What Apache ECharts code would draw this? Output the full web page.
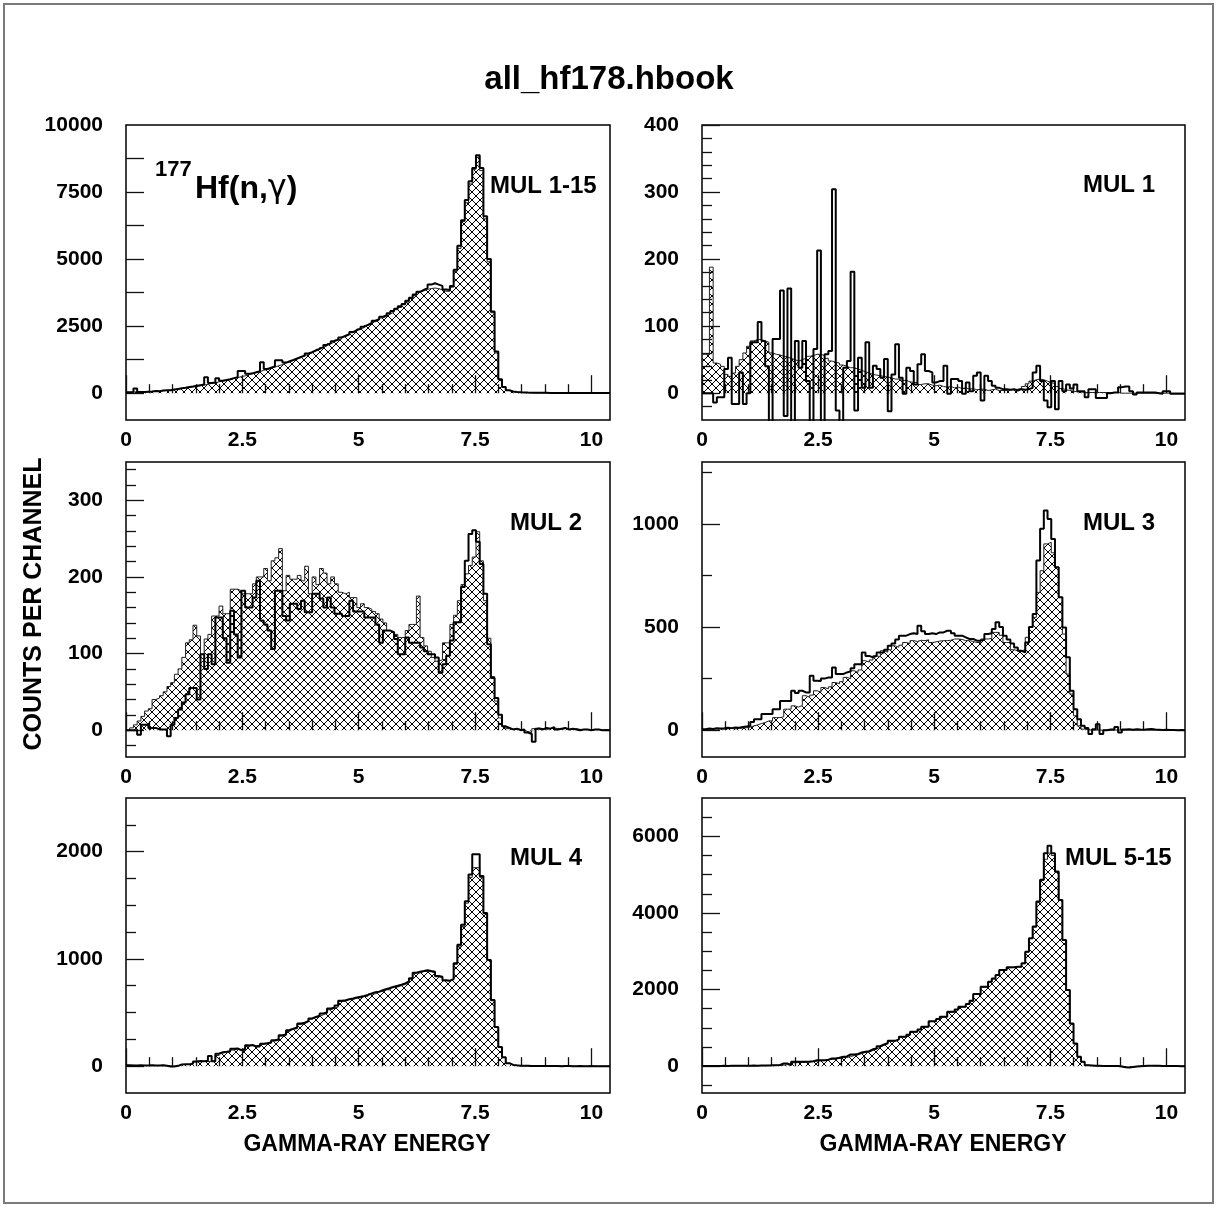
<!DOCTYPE html>
<html><head><meta charset="utf-8">
<script src="https://cdn.jsdelivr.net/npm/echarts@6/dist/echarts.min.js"></script>
<style>html,body{margin:0;padding:0;background:#fff}#c{width:1219px;height:1209px}</style>
</head><body><div id="c"></div>
<script>
// ---- binning (130 channels of 0.08 over 0..10.4) ----
const BIN_WIDTH = 0.08;
const N_BINS = 130;

// ---- tick labels ----
const xTickLabels = [0, 2.5, 5, 7.5, 10];
const xMinorTicks = [0.5, 1, 1.5, 2, 3, 3.5, 4, 4.5, 5.5, 6, 6.5, 7, 8, 8.5, 9, 9.5];
const yLabels_mul1to15 = [0, 2500, 5000, 7500, 10000];
const yMajor_mul1to15 = [0, 1250, 2500, 3750, 5000, 6250, 7500, 8750];
const yLabels_mul1 = [0, 100, 200, 300, 400];
const yMinor_mul1 = [-20, 20, 40, 60, 80, 120, 140, 160, 180, 220, 240, 260, 280, 320, 340, 360, 380];
const yLabels_mul2 = [0, 100, 200, 300];
const yMinor_mul2 = [-20, 20, 40, 60, 80, 120, 140, 160, 180, 220, 240, 260, 280, 320, 340];
const yLabels_mul3 = [0, 500, 1000];
const yMinor_mul3 = [250, 750, 1250];
const yLabels_mul4 = [0, 1000, 2000];
const yMinor_mul4 = [250, 500, 750, 1250, 1500, 1750, 2250];
const yLabels_mul5to15 = [0, 2000, 4000, 6000];
const yMinor_mul5to15 = [-500, 500, 1000, 1500, 2500, 3000, 3500, 4500, 5000, 5500, 6500];

// ---- counts per channel (hatched histogram / outline histogram) ----
const mul1to15Hatched = [
  30, 40, 50, 45, 40, 50, 60, 70, 80, 90,
  100, 115, 130, 150, 170, 190, 210, 240, 260, 280,
  305, 325, 365, 385, 425, 445, 485, 505, 550, 575,
  620, 645, 695, 725, 775, 805, 855, 885, 935, 970,
  1025, 1065, 1125, 1165, 1225, 1265, 1335, 1385, 1455, 1505,
  1575, 1625, 1705, 1765, 1845, 1905, 1985, 2035, 2115, 2175,
  2255, 2315, 2395, 2445, 2525, 2585, 2665, 2725, 2805, 2865,
  2955, 3025, 3115, 3195, 3295, 3395, 3525, 3635, 3765, 3815,
  3870, 3900, 3920, 3900, 3850, 3800, 3800, 3950, 4550, 5400,
  6400, 7100, 7800, 8350, 8800, 8300, 6500, 4900, 3000, 1500,
  500, 220, 100, 60, 40, 30, 25, 20, 20, 15,
  15, 12, 10, 10, 10, 8, 8, 8, 6, 6,
  6, 5, 5, 5, 4, 4, 4, 3, 3, 3
];
const mul1to15Outline = [
  35, 40, 170, 40, 45, 55, 60, 80, 75, 100,
  110, 110, 140, 160, 180, 200, 230, 250, 280, 300,
  320, 590, 380, 400, 560, 460, 490, 520, 560, 600,
  830, 830, 720, 740, 780, 820, 1150, 900, 950, 1000,
  1230, 1230, 1140, 1190, 1240, 1300, 1350, 1400, 1480, 1530,
  1600, 1650, 1720, 1800, 1860, 1940, 2000, 2080, 2140, 2200,
  2280, 2350, 2400, 2480, 2550, 2620, 2700, 2760, 2850, 2900,
  2980, 3060, 3150, 3240, 3330, 3450, 3560, 3680, 3780, 3850,
  3920, 4050, 4100, 4050, 4000, 3870, 3850, 4000, 4600, 5500,
  6450, 7200, 7900, 8400, 8870, 8400, 6600, 5000, 3050, 1550,
  520, 230, 110, 65, 42, 32, 26, 22, 20, 16,
  15, 12, 12, 10, 10, 9, 8, 7, 7, 6,
  6, 5, 5, 5, 4, 4, 4, 3, 3, 3
];
const mul1Hatched = [
  58, 58, 188, 45, 43, 40, 28, 25, 30, 40,
  50, 60, 70, 78, 80, 80, 78, 76, 60, 58,
  57, 55, 54, 52, 50, 48, 50, 52, 55, 56,
  58, 58, 56, 52, 48, 46, 45, 42, 40, 38,
  38, 36, 34, 32, 30, 28, 27, 26, 25, 24,
  23, 21, 21, 19, 19, 17, 16, 16, 13, 14,
  14, 12, 11, 12, 10, 9, 10, 8, 9, 7,
  8, 6, 7, 5, 6, 6, 4, 5, 6, 4,
  4, 4, 5, 5, 6, 7, 10, 14, 18, 20,
  21, 20, 18, 16, 14, 10, 7, 5, 4, 3,
  2, 2, 1, 1, 1, 1, 1, 1, 1, 1,
  1, 1, 0, 0, 0, 0, 0, 0, 0, 0,
  0, 0, 0, 0, 0, 0, 0, 0, 0, 0
];
const mul1Outline = [
  0, 0, 0, -14, -6, -6, 36, 53, -16, -16,
  31, -16, 0, 76, 76, 106, 78, 40, -55, 81,
  81, 153, -34, 156, -55, 78, 38, 78, 18, -55,
  66, 213, -55, 58, 63, 304, -26, -55, 38, 48,
  181, -26, 53, 8, 76, 8, 41, 36, 23, 51,
  -27, 28, 73, 23, -1, 38, 33, 13, 43, 58,
  33, 31, 16, 18, 18, 41, -1, 21, 21, 18,
  -1, 16, 3, 26, 31, -11, 26, 18, 11, 8,
  6, 6, 5, 6, 4, 6, 5, 6, 8, 31,
  41, 18, -11, -21, 18, -24, 18, 3, 13, 7,
  13, 3, 3, -6, 6, 6, -7, -7, -7, 0,
  1, 1, 9, 10, 10, 3, -2, 1, 1, 1,
  1, 1, 0, -1, 3, 3, -1, -1, -1, -1
];
const mul2Hatched = [
  0, 3, 7, 12, 18, 25, 28, 40, 42, 45,
  50, 57, 62, 73, 80, 95, 114, 118, 137, 123,
  99, 119, 125, 149, 149, 162, 152, 152, 184, 184,
  182, 178, 178, 178, 191, 200, 200, 211, 195, 221,
  225, 237, 182, 202, 197, 197, 202, 195, 214, 178,
  200, 190, 211, 205, 191, 200, 191, 180, 178, 180,
  173, 173, 160, 165, 160, 158, 155, 152, 145, 140,
  130, 128, 125, 121, 121, 130, 138, 138, 175, 121,
  110, 103, 95, 90, 92, 114, 114, 138, 150, 169,
  190, 204, 215, 226, 259, 221, 169, 120, 70, 38,
  16, 5, 2, 1, 2, 1, 0, -2, -3, 2,
  3, 2, 1, 2, 3, 2, 1, 2, 1, 1,
  2, 1, 1, 1, 0, 1, 1, 0, 1, 0
];
const mul2Outline = [
  0, 0, 0, -6, 7, 7, 3, 3, 1, 1,
  1, -8, 7, 16, 27, 36, 47, 55, 55, 40,
  99, 80, 99, 86, 147, 147, 120, 88, 156, 125,
  95, 182, 160, 160, 173, 195, 143, 138, 130, 106,
  182, 182, 149, 143, 165, 165, 158, 169, 154, 154,
  178, 178, 172, 160, 173, 160, 152, 152, 149, 149,
  169, 155, 155, 155, 147, 147, 147, 138, 114, 130,
  130, 128, 119, 99, 99, 121, 114, 114, 114, 108,
  103, 99, 99, 95, 75, 86, 97, 117, 141, 141,
  187, 221, 256, 261, 246, 217, 178, 112, 68, 42,
  20, 5, 3, 1, 2, 0, 1, -3, -5, -15,
  2, 1, 3, 2, 4, 1, 2, 3, 1, 2,
  1, 0, 1, 1, 0, 1, 1, 0, 0, 0
];
const mul3Hatched = [
  3, 5, 4, 5, 6, 5, 7, 8, 6, 9,
  10, 12, 15, 21, 26, 32, 37, 45, 45, 61,
  61, 65, 102, 102, 118, 112, 120, 167, 160, 170,
  191, 185, 207, 200, 210, 231, 225, 235, 256, 250,
  288, 280, 292, 337, 330, 340, 361, 355, 385, 378,
  390, 409, 402, 412, 425, 420, 434, 430, 436, 434,
  438, 425, 428, 432, 434, 434, 436, 442, 442, 440,
  434, 434, 430, 425, 425, 442, 442, 445, 474, 474,
  460, 425, 425, 390, 385, 385, 390, 450, 500, 547,
  668, 773, 903, 911, 860, 790, 644, 466, 272, 175,
  70, 21, 5, 2, 1, 0, 1, 0, 1, 0,
  0, 1, 0, 0, 1, 0, 0, 0, 1, 0,
  0, 0, 0, 1, 0, 0, 0, 0, 0, 0
];
const mul3Outline = [
  5, 8, 6, 10, 8, 9, 12, 10, 13, 12,
  15, 18, 20, 40, 53, 53, 78, 78, 78, 102,
  102, 142, 142, 142, 191, 180, 191, 183, 183, 264,
  240, 239, 250, 255, 255, 304, 272, 272, 280, 285,
  300, 320, 320, 377, 360, 353, 360, 377, 377, 390,
  409, 420, 440, 458, 458, 466, 470, 466, 506, 480,
  466, 470, 466, 474, 474, 482, 482, 470, 458, 458,
  450, 442, 442, 434, 434, 440, 466, 470, 490, 523,
  500, 458, 440, 420, 401, 385, 377, 425, 500, 563,
  822, 976, 1065, 1024, 927, 790, 644, 498, 353, 191,
  102, 53, 21, 10, -19, 5, 29, -19, 0, 3,
  3, 16, -11, 3, 4, 2, 5, 3, 2, 4,
  6, 3, 2, 1, 2, 1, 1, 0, 1, 0
];
const mul4Hatched = [
  6, 8, 6, 5, 7, 6, 8, 6, 5, 8,
  6, 2, 0, 2, 14, 16, 16, 20, 40, 44,
  44, 44, 44, 47, 100, 120, 131, 131, 150, 162,
  147, 147, 185, 194, 178, 178, 205, 209, 215, 235,
  241, 280, 288, 325, 345, 350, 390, 397, 415, 438,
  452, 462, 480, 494, 526, 540, 552, 603, 606, 620,
  622, 634, 637, 650, 652, 673, 675, 691, 697, 712,
  712, 738, 738, 751, 762, 775, 812, 868, 869, 883,
  885, 880, 870, 834, 825, 797, 795, 805, 950, 1120,
  1300, 1520, 1760, 1850, 1850, 1760, 1420, 985, 610, 360,
  175, 80, 26, 10, 6, 4, 3, 2, 2, 1,
  1, 2, 1, 1, 0, 1, 1, 0, 1, 0,
  0, 1, 0, 0, 0, 0, 0, 0, 0, 0
];
const mul4Outline = [
  8, 6, 7, 8, 6, 7, 9, 7, 6, 9,
  5, -2, -3, 3, 16, 18, 17, 25, 44, 48,
  46, 50, 94, 47, 116, 131, 135, 140, 162, 165,
  150, 160, 194, 198, 185, 190, 209, 215, 220, 241,
  250, 288, 295, 335, 350, 360, 397, 405, 420, 445,
  459, 470, 491, 500, 537, 545, 565, 609, 615, 625,
  631, 640, 647, 655, 665, 678, 690, 695, 709, 720,
  728, 741, 750, 760, 772, 790, 819, 872, 880, 887,
  895, 887, 880, 840, 834, 800, 797, 812, 959, 1131,
  1319, 1537, 1787, 1975, 1975, 1772, 1428, 990, 616, 366,
  178, 84, 28, 12, 8, 5, 4, 3, 2, 2,
  1, 2, 1, 1, 1, 1, 0, 1, 1, 0,
  0, 1, 0, 0, 1, 0, 0, 0, 0, 0
];
const mul5to15Hatched = [
  3, 4, 5, 5, 6, 7, 6, 8, 9, 8,
  10, 11, 10, 12, 12, 14, 15, 17, 20, 22,
  24, 26, 40, 26, 90, 95, 100, 105, 110, 120,
  135, 140, 145, 160, 180, 190, 205, 220, 230, 250,
  280, 295, 330, 360, 370, 410, 450, 500, 550, 590,
  650, 660, 695, 760, 765, 815, 890, 895, 955, 1020,
  1025, 1165, 1170, 1225, 1285, 1290, 1410, 1415, 1475, 1545,
  1550, 1615, 1700, 1875, 1880, 2065, 2070, 2195, 2280, 2370,
  2500, 2505, 2570, 2575, 2590, 2590, 2675, 2980, 3330, 3630,
  4280, 4850, 5400, 5560, 5500, 5060, 4330, 3280, 1980, 1110,
  590, 240, 110, 26, 15, 10, 8, 6, 5, 4,
  3, 2, -10, -20, -30, -20, -10, 0, 5, 10,
  15, 12, 10, 8, 5, 4, 3, 2, 1, 0
];
const mul5to15Outline = [
  5, 5, 8, 6, 8, 10, 8, 10, 12, 10,
  12, 14, 12, 15, 14, 16, 18, 20, 26, 26,
  30, 70, 70, 26, 113, 113, 113, 113, 120, 130,
  157, 157, 157, 170, 200, 200, 220, 244, 255, 305,
  305, 320, 360, 375, 390, 440, 462, 520, 566, 600,
  662, 662, 700, 767, 767, 820, 898, 898, 960, 1028,
  1028, 1176, 1176, 1230, 1290, 1290, 1420, 1420, 1480, 1551,
  1551, 1620, 1708, 1882, 1882, 2074, 2074, 2205, 2290, 2379,
  2510, 2510, 2580, 2580, 2597, 2597, 2684, 2989, 3338, 3643,
  4296, 4863, 5560, 5752, 5560, 5081, 4340, 3294, 1987, 1115,
  593, 244, 113, 26, 20, 12, 10, 8, 6, 5,
  4, 3, -10, -25, -35, -20, -10, 0, 6, 10,
  14, 12, 10, 8, 6, 5, 3, 2, 1, 0
];

// ---- layout / styling ----
const FONT = '"Liberation Sans", Arial, Helvetica, sans-serif';
const panels = [
  { grid: { left: 126, top: 125, width: 484, height: 295 }, yMin: -1000, yMax: 10000, yLabels: yLabels_mul1to15, yMajor: yMajor_mul1to15, yMinor: [], fill: mul1to15Hatched, line: mul1to15Outline },
  { grid: { left: 702, top: 125, width: 483, height: 295 }, yMin: -40, yMax: 400, yLabels: yLabels_mul1, yMajor: yLabels_mul1, yMinor: yMinor_mul1, fill: mul1Hatched, line: mul1Outline },
  { grid: { left: 126, top: 462, width: 484, height: 295 }, yMin: -35, yMax: 350, yLabels: yLabels_mul2, yMajor: yLabels_mul2, yMinor: yMinor_mul2, fill: mul2Hatched, line: mul2Outline },
  { grid: { left: 702, top: 462, width: 483, height: 295 }, yMin: -130, yMax: 1300, yLabels: yLabels_mul3, yMajor: yLabels_mul3, yMinor: yMinor_mul3, fill: mul3Hatched, line: mul3Outline },
  { grid: { left: 126, top: 798, width: 484, height: 295 }, yMin: -250, yMax: 2500, yLabels: yLabels_mul4, yMajor: yLabels_mul4, yMinor: yMinor_mul4, fill: mul4Hatched, line: mul4Outline },
  { grid: { left: 702, top: 798, width: 483, height: 295 }, yMin: -700, yMax: 7000, yLabels: yLabels_mul5to15, yMajor: yLabels_mul5to15, yMinor: yMinor_mul5to15, fill: mul5to15Hatched, line: mul5to15Outline }
];

const binEdges = Array.from({ length: N_BINS + 1 }, (_, k) => Math.round(k * BIN_WIDTH * 100) / 100);
function histData(vals) { return binEdges.map((e, k) => [e, vals[Math.min(k, vals.length - 1)]]); }

function makeHatch() {
  const s = 8, c = document.createElement('canvas');
  c.width = s; c.height = s;
  const g = c.getContext('2d');
  g.strokeStyle = '#000'; g.lineWidth = 1;
  g.beginPath();
  for (const d of [-s, 0, s]) { g.moveTo(d, 0); g.lineTo(d + s, s); g.moveTo(d, s); g.lineTo(d + s, 0); }
  g.stroke();
  return c;
}
const hatch = makeHatch();

const tickLine = { color: '#111', width: 1.3 };
const labelStyle = { color: '#000', fontSize: 21, fontWeight: 'bold', fontFamily: FONT };

const grids = [], xAxes = [], yAxes = [], series = [];
panels.forEach((p, i) => {
  grids.push(Object.assign({ show: true, borderColor: '#000', borderWidth: 1.5, backgroundColor: 'transparent' }, p.grid));
  xAxes.push({
    gridIndex: i, type: 'value', min: 0, max: N_BINS * BIN_WIDTH, position: 'bottom',
    axisLine: { show: false }, splitLine: { show: false },
    axisTick: { show: true, inside: true, length: 18, customValues: xTickLabels, lineStyle: tickLine },
    axisLabel: Object.assign({ show: true, customValues: xTickLabels, formatter: v => String(v), margin: 10 }, labelStyle)
  });
  xAxes.push({
    gridIndex: i, type: 'value', min: 0, max: N_BINS * BIN_WIDTH, position: 'bottom',
    axisLine: { show: false }, splitLine: { show: false }, axisLabel: { show: false },
    axisTick: { show: true, inside: true, length: 9, customValues: xMinorTicks, lineStyle: tickLine }
  });
  yAxes.push({
    gridIndex: i, type: 'value', min: p.yMin, max: p.yMax, position: 'left',
    axisLine: { show: false }, splitLine: { show: false },
    axisTick: { show: true, inside: true, length: 18, customValues: p.yMajor, lineStyle: tickLine },
    axisLabel: Object.assign({ show: true, customValues: p.yLabels, formatter: v => String(v), margin: 23 }, labelStyle)
  });
  yAxes.push({
    gridIndex: i, type: 'value', min: p.yMin, max: p.yMax, position: 'left',
    axisLine: { show: false }, splitLine: { show: false }, axisLabel: { show: false },
    axisTick: { show: p.yMinor.length > 0, inside: true, length: 10, customValues: p.yMinor.length ? p.yMinor : [0], lineStyle: tickLine }
  });
  series.push({
    type: 'line', xAxisIndex: 2 * i, yAxisIndex: 2 * i, step: 'end', symbol: 'none', silent: true,
    color: '#000', lineStyle: { color: '#222', width: 1 },
    areaStyle: { color: { image: hatch, repeat: 'repeat' }, opacity: 1 },
    data: histData(p.fill), z: 2
  });
  series.push({
    type: 'line', xAxisIndex: 2 * i, yAxisIndex: 2 * i, step: 'end', symbol: 'none', silent: true,
    color: '#000', lineStyle: { color: '#000', width: 2 },
    data: histData(p.line), z: 3
  });
});

function txt(x, y, text, size, align, extra) {
  return Object.assign({
    type: 'text', x: x, y: y, silent: true,
    style: { text: text, fill: '#000', font: 'bold ' + size + 'px ' + FONT, align: align || 'left', verticalAlign: 'middle' }
  }, extra || {});
}

const graphics = [
  { type: 'rect', silent: true, shape: { x: 4, y: 4, width: 1209, height: 1199 }, style: { fill: 'none', stroke: '#7a7a7a', lineWidth: 2 } },
  txt(609, 80, 'all_hf178.hbook', 33, 'center'),
  txt(155, 170, '177', 22, 'left'),
  {
    type: 'text', x: 195, y: 189, silent: true,
    style: {
      text: '{b|Hf(n,}{g|γ}{b|)}', fill: '#000', align: 'left', verticalAlign: 'middle',
      rich: {
        b: { font: 'bold 32px ' + FONT, fill: '#000' },
        g: { font: '32px "DejaVu Sans", ' + FONT, fill: '#000' }
      }
    }
  },
  txt(490, 186, 'MUL 1-15', 24, 'left'),
  txt(1083, 185, 'MUL 1', 24, 'left'),
  txt(510, 523, 'MUL 2', 24, 'left'),
  txt(1083, 523, 'MUL 3', 24, 'left'),
  txt(510, 858, 'MUL 4', 24, 'left'),
  txt(1065, 858, 'MUL 5-15', 24, 'left'),
  txt(367, 1145, 'GAMMA-RAY ENERGY', 23, 'center'),
  txt(943, 1145, 'GAMMA-RAY ENERGY', 23, 'center'),
  txt(34, 604, 'COUNTS PER CHANNEL', 25, 'center', { rotation: Math.PI / 2 })
];

const chart = echarts.init(document.getElementById('c'), null, { renderer: 'canvas' });
chart.setOption({
  animation: false,
  backgroundColor: '#fff',
  grid: grids,
  xAxis: xAxes,
  yAxis: yAxes,
  series: series,
  graphic: graphics
});
</script>
</body></html>
